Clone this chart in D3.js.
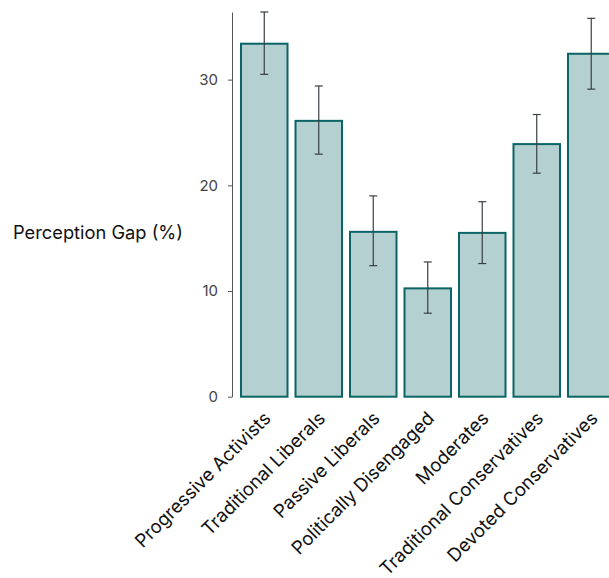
<!DOCTYPE html>
<meta charset="utf-8">
<title>Perception Gap</title>
<style>

body {
  margin: 0;
  background: #fff;
}

text {
  font-family: Inter, "Noto Sans", sans-serif;
}

.axis path,
.axis line {
  stroke: #555;
}

.axis text {
  fill: #444;
  font-size: 15px;
}

.bar {
  fill: #b5d0d1;
  stroke: #0b6466;
  stroke-width: 2px;
}

.err {
  stroke: #3a3f44;
  stroke-width: 1.2px;
}

</style>
<body>
<script src="https://cdn.jsdelivr.net/npm/d3@7"></script>
<script>

var categories = ["Progressive Activists", "Traditional Liberals", "Passive Liberals",
  "Politically Disengaged", "Moderates", "Traditional Conservatives", "Devoted Conservatives"];
var gap = [33.4, 26.1, 15.6, 10.25, 15.5, 23.9, 32.45];
var low = [30.5, 22.95, 12.4, 7.9, 12.6, 21.15, 29.1];
var high = [36.4, 29.4, 19.0, 12.75, 18.45, 26.7, 35.8];
var yTicks = [0, 10, 20, 30];

var w = 609,
    h = 578;

var svg = d3.select("body").append("svg")
    .attr("width", w)
    .attr("height", h);

var x = d3.scaleBand()
    .domain(categories)
    .range([232, 623.5])
    .paddingInner(0.11)
    .paddingOuter(0.147);

var y = d3.scaleLinear()
    .domain([0, 36.4])
    .range([396.7, 12]);

var data = categories.map(function(c, i) {
  return {name: c, value: gap[i], lo: low[i], hi: high[i]};
});

svg.selectAll(".bar")
    .data(data)
  .enter().append("rect")
    .attr("class", "bar")
    .attr("x", function(d) { return x(d.name) + 1; })
    .attr("width", x.bandwidth() - 2)
    .attr("y", function(d) { return y(d.value); })
    .attr("height", function(d) { return y(0) - y(d.value); });

var err = svg.selectAll(".errg")
    .data(data)
  .enter().append("g")
    .attr("class", "errg")
    .attr("transform", function(d) { return "translate(" + (x(d.name) + x.bandwidth() / 2) + ",0)"; });

err.append("line")
    .attr("class", "err")
    .attr("y1", function(d) { return y(d.lo); })
    .attr("y2", function(d) { return y(d.hi); });

err.selectAll(".cap")
    .data(function(d) { return [d.lo, d.hi]; })
  .enter().append("line")
    .attr("class", "err")
    .attr("x1", -4)
    .attr("x2", 4)
    .attr("y1", function(v) { return y(v); })
    .attr("y2", function(v) { return y(v); });

svg.append("g")
    .attr("class", "axis")
    .attr("transform", "translate(232,0)")
    .call(d3.axisLeft(y).tickValues(yTicks).tickSize(4).tickSizeOuter(0).tickPadding(10))
    .selectAll("text")
    .style("font-size", "15px");

svg.selectAll(".xlabel")
    .data(categories)
  .enter().append("text")
    .attr("class", "xlabel")
    .attr("transform", function(d) {
      return "translate(" + (x(d) + x.bandwidth() / 2 + 3) + ",415)rotate(-45)";
    })
    .attr("text-anchor", "end")
    .attr("dy", "0.35em")
    .style("font-size", "18.5px")
    .style("fill", "#111")
    .text(function(d) { return d; });

svg.append("text")
    .attr("x", 13)
    .attr("y", 239)
    .style("font-size", "18.3px")
    .style("fill", "#111")
    .text("Perception Gap (%)");

</script>
